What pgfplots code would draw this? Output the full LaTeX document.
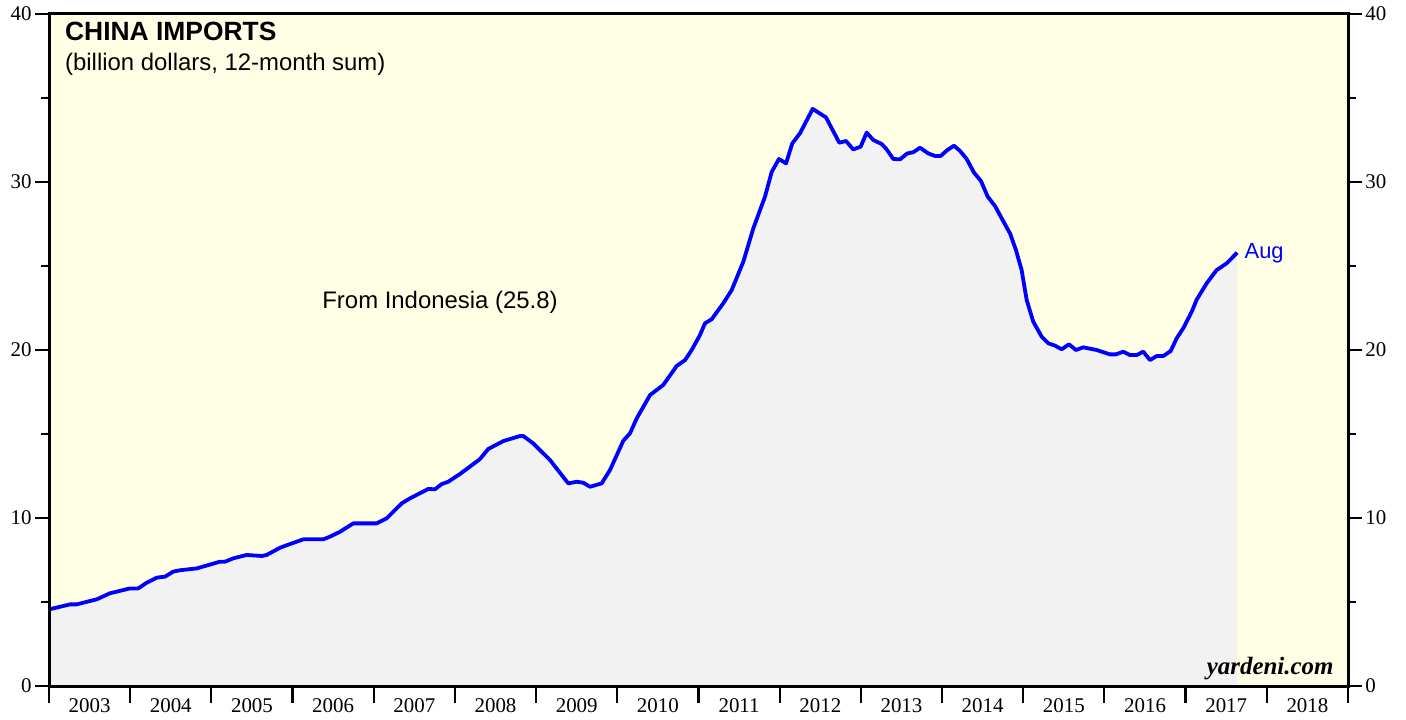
\documentclass[border=0pt]{standalone}
\usepackage{fontspec}
\setmainfont{Liberation Serif}
\newfontfamily\helv{Liberation Sans}
\usepackage{pgfplots}
\pgfplotsset{compat=1.18}
\usepackage{pgfplotstable}
\definecolor{bgyel}{RGB}{255,255,229}
\definecolor{fillgray}{RGB}{242,242,242}
\definecolor{lineblue}{RGB}{0,0,255}

\pgfplotstableread{
x y
2003.000 4.56
2003.259 4.86
2003.341 4.86
2003.588 5.16
2003.751 5.52
2003.998 5.81
2004.100 5.81
2004.203 6.15
2004.327 6.45
2004.429 6.51
2004.531 6.81
2004.613 6.89
2004.819 7.00
2005.106 7.40
2005.168 7.40
2005.270 7.60
2005.435 7.80
2005.620 7.74
2005.681 7.80
2005.845 8.23
2005.968 8.45
2006.132 8.73
2006.378 8.73
2006.461 8.89
2006.584 9.18
2006.748 9.68
2007.036 9.68
2007.159 9.98
2007.344 10.87
2007.446 11.17
2007.672 11.73
2007.754 11.71
2007.837 12.02
2007.918 12.16
2008.062 12.62
2008.226 13.21
2008.308 13.51
2008.411 14.11
2008.596 14.58
2008.801 14.88
2008.842 14.88
2008.965 14.44
2009.171 13.45
2009.396 12.06
2009.500 12.16
2009.581 12.10
2009.663 11.86
2009.807 12.06
2009.910 12.86
2010.074 14.60
2010.156 15.04
2010.239 15.93
2010.403 17.32
2010.566 17.92
2010.731 19.05
2010.834 19.40
2010.916 20.00
2011.018 20.89
2011.080 21.59
2011.162 21.83
2011.305 22.78
2011.409 23.57
2011.552 25.26
2011.675 27.24
2011.819 29.13
2011.902 30.61
2011.991 31.37
2012.078 31.11
2012.155 32.30
2012.250 32.90
2012.406 34.35
2012.570 33.85
2012.734 32.34
2012.817 32.44
2012.906 31.94
2012.997 32.10
2013.071 32.94
2013.153 32.50
2013.256 32.26
2013.318 31.94
2013.399 31.37
2013.482 31.35
2013.571 31.70
2013.645 31.77
2013.728 32.04
2013.830 31.70
2013.913 31.55
2013.983 31.55
2014.064 31.90
2014.147 32.16
2014.221 31.85
2014.303 31.37
2014.393 30.56
2014.479 30.06
2014.562 29.13
2014.652 28.57
2014.734 27.84
2014.837 26.94
2014.910 25.95
2014.980 24.76
2015.042 22.98
2015.123 21.69
2015.227 20.79
2015.308 20.40
2015.391 20.26
2015.473 20.04
2015.563 20.34
2015.649 20.00
2015.739 20.16
2015.904 20.00
2016.068 19.74
2016.142 19.74
2016.232 19.90
2016.314 19.70
2016.397 19.70
2016.479 19.90
2016.561 19.40
2016.643 19.64
2016.725 19.64
2016.816 19.94
2016.889 20.69
2016.971 21.30
2017.075 22.28
2017.136 23.00
2017.259 23.97
2017.382 24.76
2017.506 25.16
2017.636 25.80
}\imports

\pgfplotsset{
  yaxisonly/.style={
    width=1299bp, height=672bp, scale only axis,
    xmin=2003, xmax=2019, ymin=0, ymax=40,
    hide x axis,
    axis line style={draw=none},
    ytick={0,10,20,30,40}, minor ytick={5,15,25,35},
    tick align=outside,
    major tick length=14bp, minor tick length=8bp,
    y tick style={line width=1.1bp, black},
    ticklabel style={font=\fontsize{21}{24}\selectfont},
    /pgf/number format/assume math mode=true,
  }
}

\begin{document}
\begin{tikzpicture}
\begin{axis}[
  name=main,
  width=1299bp, height=672bp, scale only axis,
  xmin=2003, xmax=2019, ymin=0, ymax=40,
  axis background/.style={fill=bgyel},
  axis on top,
  axis line style={line width=3bp, black},
  ytick=\empty,
  tick align=outside,
  major tick length=17bp,
  xtick={2003,2004,...,2019}, xticklabels={},
  x tick style={line width=2.2bp, black},
  xtick pos=bottom,
  extra x ticks={2003.5,2004.5,2005.5,2006.5,2007.5,2008.5,2009.5,2010.5,2011.5,2012.5,2013.5,2014.5,2015.5,2016.5,2017.5,2018.5},
  extra x tick labels={2003,2004,2005,2006,2007,2008,2009,2010,2011,2012,2013,2014,2015,2016,2017,2018},
  extra x tick style={major tick length=0pt, xticklabel style={yshift=-9bp}},
  ticklabel style={font=\fontsize{21}{24}\selectfont},
  /pgf/number format/assume math mode=true,
]
\addplot[fill=fillgray, draw=none] table {\imports} \closedcycle;
\addplot[lineblue, line width=3.8bp, line join=round] table {\imports};
\node[anchor=west, text=lineblue, font=\helv\fontsize{22}{24}\selectfont, inner sep=2bp] at (axis cs:2017.70,25.75) {Aug};
\node[font=\helv\fontsize{24}{26}\selectfont] at (axis cs:2007.816,22.86) {From Indonesia (25.8)};
\node[anchor=base west, font=\helv\bfseries\fontsize{26.5}{30}\selectfont, inner sep=0pt] at (axis description cs:0.0123,0.960) {CHINA IMPORTS};
\node[anchor=base west, font=\helv\fontsize{24}{26}\selectfont, inner sep=0pt] at (axis description cs:0.0123,0.9165) {(billion dollars, 12-month sum)};
\node[anchor=base east, font=\bfseries\itshape\fontsize{25}{28}\selectfont, inner sep=0pt] at (axis description cs:0.989,0.0164) {yardeni.com};
\end{axis}
\begin{axis}[yaxisonly, axis y line*=left]
\addplot[draw=none] coordinates {(2003,0)};
\end{axis}
\begin{axis}[yaxisonly, axis y line*=right]
\addplot[draw=none] coordinates {(2003,0)};
\end{axis}
\pgfresetboundingbox
\path ([shift={(-49bp,-33bp)}]main.south west) rectangle ([shift={(58bp,14bp)}]main.north east);
\end{tikzpicture}
\end{document}
